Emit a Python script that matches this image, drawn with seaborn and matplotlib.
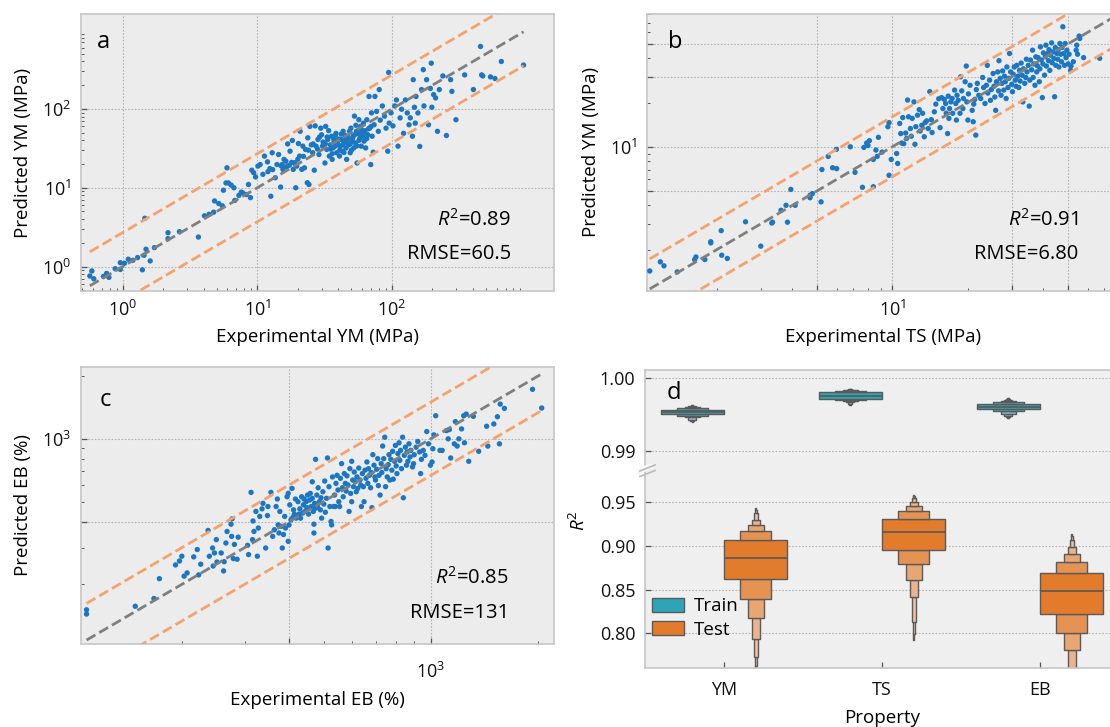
import numpy as np
import pandas as pd
import matplotlib
matplotlib.use("Agg")
import matplotlib.pyplot as plt
import seaborn as sns
from matplotlib.ticker import FixedLocator, FixedFormatter, LogLocator, NullFormatter
from matplotlib.lines import Line2D

# ---------------- data ----------------
# panel a: (experimental YM, predicted YM) in MPa
ym_points = [
    (0.57,0.76),(0.59,0.88),(0.61,0.70),(0.72,0.75),(0.76,0.82),(0.79,0.73),(0.88,0.94),(0.96,0.92),
    (0.96,1.12),(1.03,1.10),(1.10,1.24),(1.19,1.20),(1.29,1.30),(1.40,0.91),(1.44,1.39),(1.46,4.1),
    (1.49,1.66),(1.60,1.18),(1.72,1.74),(2.17,2.26),(2.17,2.69),(2.64,2.77),(3.65,2.37),(4.05,4.4),
    (4.38,4.6),(4.74,4.9),(4.81,6.8),(5.17,6.3),(5.5,5.9),(5.6,9.3),(5.85,11.5),(5.95,17.9),(6.1,11.5),
    (6.4,10.8),(6.7,10.0),(6.8,6.9),(7.3,8.0),(7.6,8.8),(7.8,8.6),(8.3,8.2),(8.6,11),(8.9,7.5),(9.1,16.7),
    (9.4,15.5),(9.7,13.7),(10.1,18.8),(10.5,19.7),(11.0,14.8),(11.3,25.2),(11.9,21.3),(12.4,17.5),
    (12.6,7.8),(12.9,27.8),(13.6,13.4),(14.0,19.7),(14.4,26.4),(14.9,10.2),(15.3,19.7),(15.5,17.1),
    (15.8,22.9),(16.3,21.7),(16.8,36),(17.3,19.3),(17.5,29.1),(18.2,39.8),(18.5,17.1),(19.0,20.8),
    (19.3,10.0),(19.6,18.8),(20.2,36.4),(20.6,25.2),(20.8,52),(21.4,17.1),(21.8,33.7),(22.4,17.9),
    (22.8,30.6),(23.5,11.6),(23.7,43),(24.2,11.0),(24.6,60),(25.2,35),(25.8,27.8),(26.5,16.7),(26.9,61),
    (27.3,33.7),(28.2,41),(28.7,26.4),(29.6,57),(30.0,47),(30.5,33.7),(31.5,37),(31.8,20.6),(32.2,60),
    (32.8,30.6),(33.4,41),(33.9,53),(34.3,25.2),(34.9,35),(35.6,45),(36.0,22.9),(36.5,32),(37.2,39),
    (37.9,33.7),(38.4,49),(38.9,27.8),(39.6,36),(40.3,41.5),(40.8,25.2),(41.3,33.7),(42.1,41),(42.9,29.1),
    (43.4,52),(44.0,37.5),(44.8,46),(45.6,32),(46.1,22.9),(46.7,41),(47.6,35),(48.5,52),(49.0,27.8),
    (49.6,57),(50.5,39),(51.4,45),(52.1,32),(52.7,81),(53.5,37),(54.5,52),(55.1,20.6),(55.8,49),(56.8,73),
    (57.8,43),(58.5,60),(59.2,33.7),(60.3,52),(61.4,66),(62.1,39),(62.9,53),(63.8,32),(65.1,73),(66.2,47),
    (67.6,144),(68.2,57),(69.6,19.7),(70.5,89),(71.3,45),(72.6,28.3),(73.8,63),(74.8,144),(76.9,93),
    (79.3,52),(80.5,176),(81.9,72),(84.9,109),(88.1,81),(90.4,57),(93.1,29.1),(94.6,290),(95.5,66),
    (98.5,89),(101.8,61),(105,109),(108,130),(111,33.7),(115,77),(118,99),(122,49),(126,130),(130,89),
    (134,63),(137,77),(142,45),(144,235),(147,105),(149,66),(151,144),(156,89),(161,33.4),(166,176),
    (171,315),(173,109),(181,235),(187,63),(193,182),(196,380),(198,105),(204,152),(211,138),(218,52),
    (225,176),(239,262),(254,46),(273,235),(279,167),(299,73),(347,270),(403,176),(455,620),(464,270),
    (473,262),(540,255),(583,243),(650,400),(950,360),
    (30.8,38),(33,44),(35,31),(37,42),(39,38),(41,30),(43,35),(45,40),(47,44),(49,36),(51,42),(53,47),
    (55,34),(57,40),(59,55),(61,45),(63,50),(65,42),(67,56),(70,60),(28,31),(26,36),(24,30),(22,25),
    (20,23),(18,21),(16.5,18.5),(15,19),(13,17),(12,16),(38,46),(42,48),(46,38),(50,30),(54,62),(58,48),
    (44,28),(36,27),(32,36),(29,44),
]

# panel b: (experimental TS, predicted) in MPa
ts_points = [
    (1.08,1.43),(1.19,1.65),(1.23,1.55),(1.39,1.41),(1.63,1.71),(1.65,1.78),(1.79,1.71),(1.89,2.26),
    (1.89,2.22),(2.08,2.69),(2.09,1.83),(2.20,1.74),(2.60,3.09),(2.99,2.11),(3.31,3.03),(3.33,3.07),
    (3.6,3.7),(3.77,4.0),(3.82,3.07),(3.94,5.13),(4.10,4.0),(4.7,4.5),(4.7,4.68),(4.8,4.8),(5.2,4.22),
    (5.24,7.0),(5.55,8.6),(5.78,7.2),(5.98,9.6),(6.0,7.1),(6.8,10),(7.1,6.7),(7.6,5.3),(7.7,9.9),
    (7.9,10.6),(8.0,10.2),(8.1,11.0),(8.4,5.35),(8.4,8.2),(8.6,9.5),(8.7,8.6),(8.8,11.6),(9.1,9.2),
    (9.6,13.7),(9.7,6.4),(9.7,14.6),(9.9,8.2),(10.4,9.0),(10.5,7.7),(10.7,14.4),(10.8,12.3),(10.9,10.6),
    (11.0,15.8),(11.1,10.5),(11.3,12.4),(11.4,11.4),(11.5,20.8),(11.6,16.0),(11.8,13.3),(11.9,11.8),
    (12.0,15.6),(12.2,20.2),(12.3,10.4),(12.4,13.7),(12.6,16.4),(12.8,17.9),(12.9,12.8),(13.1,14.0),
    (13.2,16.9),(13.4,11.7),(13.5,14.6),(13.7,15.0),(13.9,13.3),(14.1,23.7),(14.3,15.3),(14.4,12.5),
    (14.7,17.3),(14.9,19.5),(15.3,21.2),(15.5,13.5),(15.7,21.6),(15.9,18.2),(16.1,21.0),(16.3,19.7),
    (16.4,16.9),(16.6,12.3),(16.7,22.1),(16.8,15.6),(16.9,18.2),(17.1,20.2),(17.3,21.3),(17.4,16.9),
    (17.7,24.3),(17.9,19.7),(18.0,15.2),(18.1,22.4),(18.3,20.7),(18.6,16.9),(18.7,29.9),(18.9,24.0),
    (19.1,18.2),(19.2,21.3),(19.5,27.7),(19.7,35.4),(19.8,20.2),(20.0,15.2),(20.1,22.9),(20.4,26.2),
    (20.8,17.7),(21.0,14.8),(21.1,19.5),(21.3,21.0),(21.5,12.0),(21.6,24.5),(21.8,27.0),(22.1,22.4),
    (22.5,21.3),(22.9,29.6),(23.1,25.3),(23.4,19.7),(23.7,26.2),(23.9,35.8),(24.0,23.2),(24.4,28.4),
    (24.6,20.7),(24.8,24.5),(25.2,31.5),(25.4,25.8),(25.6,21.8),(25.8,17.7),(26.0,27.7),(26.3,32.3),
    (26.5,24.0),(26.6,38.5),(26.9,29.2),(27.1,22.4),(27.3,27.0),(27.5,32.8),(27.8,24.3),(28.0,30.2),
    (28.2,27.7),(28.4,21.3),(28.6,34.9),(28.9,25.3),(29.1,29.2),(29.3,43.1),(29.6,32.3),(29.9,26.6),
    (30.1,23.7),(30.3,31.2),(30.6,34.9),(30.9,28.4),(31.1,25.8),(31.3,35.8),(31.6,30.2),(31.9,25.3),
    (32.1,33.1),(32.3,28.0),(32.6,37.1),(32.9,30.7),(33.1,20.2),(33.3,33.9),(33.7,27.0),(34.0,29.6),
    (34.2,39.4),(34.4,32.3),(34.8,35.8),(35.1,18.9),(35.3,28.4),(35.5,38.9),(35.9,33.4),(36.2,45.4),
    (36.4,29.6),(36.6,36.6),(37.0,26.2),(37.3,40.9),(37.6,32.3),(37.8,35.6),(38.1,40.4),(38.5,27.7),
    (38.7,33.9),(38.9,47.8),(39.2,38.9),(39.6,21.6),(39.8,36.6),(40.0,43.5),(40.4,30.7),(40.7,40.9),
    (40.9,49.1),(41.1,35.4),(41.6,43.1),(41.9,38.5),(42.1,45.8),(42.4,33.1),(42.7,42.0),(43.1,50.9),
    (43.3,37.3),(43.6,44.2),(44.0,39.9),(44.3,21.9),(44.6,47.3),(44.8,35.8),(45.2,43.1),(45.6,39.4),
    (45.8,45.8),(46.1,34.9),(46.5,50.4),(46.9,42.6),(47.2,37.9),(47.4,47.3),(47.8,65.5),(48.2,43.1),
    (48.5,35.8),(48.8,50.4),(49.2,40.4),(49.6,45.4),(50.2,36.6),(50.6,42.6),(51.3,33.1),(51.5,35.4),
    (52.6,37.9),(54.0,45.4),(54.3,49.1),(54.7,42.6),(55.5,56.6),(55.8,54.5),(57.8,40.4),(67.0,40.0),
    (76.0,55.0),
]

# panel c: (experimental EB, predicted EB) in %
eb_points = [
    (108,151),(108,144),(148,157),(167,171),(173,213),(192,248),(197,259),(200,273),(203,219),(207,227),
    (216,271),(221,294),(223,222),(226,250),(237,363),(239,273),(244,299),(245,245),(247,283),(250,328),
    (251,256),(258,283),(262,232),(263,257),(266,316),(268,359),(275,389),(276,340),(277,413),(279,266),
    (281,311),(286,264),(288,337),(306,308),(308,278),(313,553),(316,328),(317,403),(319,359),(323,448),
    (326,273),(328,373),(331,424),(336,461),(338,490),(344,299),(348,428),(349,473),(356,553),(360,340),
    (364,366),(368,473),(371,514),(373,386),(375,353),(377,448),(380,380),(383,299),(386,347),(389,424),
    (391,373),(395,527),(398,547),(398,322),(400,386),(402,482),(405,408),(408,578),(410,419),(412,456),
    (414,435),(417,514),(419,416),(421,424),(424,499),(427,435),(429,461),(431,416),(434,527),(437,440),
    (439,482),(441,514),(444,448),(447,499),(449,467),(451,537),(454,435),(457,508),(459,547),(462,473),
    (465,518),(465,622),(468,448),(470,389),(470,353),(472,490),(475,797),(475,464),(479,537),(481,473),
    (483,582),(487,499),(490,456),(492,521),(494,416),(498,557),(501,486),(504,627),(506,444),(510,518),
    (513,809),(515,299),(518,589),(521,473),(525,401),(527,386),(530,656),(534,473),(537,537),(540,473),
    (542,611),(546,668),(549,568),(552,499),(555,473),(558,646),(562,760),(565,582),(568,527),(572,681),
    (576,611),(579,561),(582,664),(586,600),(590,448),(593,719),(596,547),(600,499),(600,780),(604,634),
    (607,589),(610,693),(614,622),(618,557),(621,656),(624,578),(628,724),(633,634),(636,600),(639,473),
    (643,681),(647,589),(650,499),(654,707),(658,646),(662,774),(666,611),(669,719),(673,668),(678,582),
    (681,689),(684,467),(688,839),(693,747),(697,656),(700,634),(705,714),(710,803),(713,596),(716,668),
    (721,537),(726,760),(729,689),(733,923),(738,803),(743,1018),(747,589),(750,719),(755,656),(760,752),
    (764,839),(768,634),(773,797),(778,707),(782,871),(785,640),(791,780),(796,929),(800,741),(804,681),
    (809,849),(815,957),(819,788),(823,880),(828,719),(834,1018),(838,521),(843,833),(849,912),(855,747),
    (859,865),(863,780),(869,946),(875,818),(879,880),(889,733),(895,760),(899,839),(910,912),(920,971),
    (931,865),(937,681),(942,797),(953,880),(964,833),(975,1084),(986,946),(998,747),(1009,774),
    (1014,896),(1021,1045),(1033,1291),(1062,880),(1077,880),(1107,1095),(1120,1000),(1128,1107),
    (1138,809),(1165,946),(1173,1209),(1187,923),(1200,1000),(1221,1116),(1238,1291),(1244,957),
    (1258,1315),(1279,780),(1318,1282),(1364,871),(1436,1149),(1447,923),(1504,1179),(1540,1277),
    (1560,946),(1568,1468),(1611,1400),(1932,1729),(2050,1406),
]

# panel d: R^2 of repeated train/test splits
properties = ["YM", "TS", "EB"]
sets = ["Train", "Test"]
r2_train_ym = [0.99395,0.99425,0.99455,0.99468,0.99480,0.99486,0.99492,0.99498,0.99503,0.99507,0.99510,
               0.99514,0.99517,0.99520,0.99524,0.99527,0.99530,0.99533,0.99537,0.99540,0.99544,0.99547,
               0.99551,0.99554,0.99558,0.99563,0.99568,0.99574,0.99580,0.99589,0.99598,0.99608,0.99625]
r2_train_ts = [0.99620,0.99660,0.99680,0.99690,0.99700,0.99703,0.99706,0.99709,0.99712,0.99717,0.99723,
               0.99728,0.99734,0.99739,0.99744,0.99750,0.99755,0.99760,0.99766,0.99771,0.99777,0.99782,
               0.99788,0.99794,0.99800,0.99804,0.99808,0.99811,0.99815,0.99820,0.99825,0.99833,0.99845]
r2_train_eb = [0.99440,0.99475,0.99505,0.99523,0.99540,0.99548,0.99556,0.99563,0.99571,0.99575,0.99579,
               0.99583,0.99587,0.99591,0.99595,0.99599,0.99603,0.99607,0.99611,0.99615,0.99620,0.99624,
               0.99628,0.99632,0.99636,0.99642,0.99648,0.99654,0.99660,0.99670,0.99680,0.99700,0.99722]
r2_test_ym = [0.752,0.794,0.818,0.829,0.839,0.845,0.851,0.857,0.862,0.866,0.869,0.872,0.875,0.878,0.881,
              0.884,0.886,0.888,0.890,0.893,0.896,0.899,0.902,0.904,0.9065,0.909,0.912,0.915,0.917,0.921,
              0.924,0.930,0.945]
r2_test_ts = [0.785,0.8413,0.8608,0.870,0.879,0.884,0.888,0.892,0.8955,0.899,0.902,0.905,0.908,0.910,0.912,
              0.914,0.9164,0.918,0.920,0.922,0.924,0.926,0.928,0.9295,0.931,0.934,0.936,0.938,0.940,0.943,
              0.9458,0.9507,0.960]
r2_test_eb = [0.740,0.760,0.781,0.791,0.8008,0.806,0.811,0.817,0.8226,0.826,0.830,0.834,0.838,0.841,0.844,
              0.846,0.8485,0.851,0.853,0.856,0.858,0.861,0.864,0.867,0.8695,0.872,0.875,0.878,0.882,0.886,
              0.8908,0.8985,0.916]

scores = {"YM": (0.89, "60.5"), "TS": (0.91, "6.80"), "EB": (0.85, "131")}

# ---------------- style ----------------
plt.rcParams.update({
    "font.family": ["Open Sans", "DejaVu Sans"],
    "mathtext.fontset": "custom",
    "mathtext.rm": "Open Sans",
    "mathtext.it": "Open Sans:italic",
    "mathtext.bf": "Open Sans:bold",
    "axes.unicode_minus": False,
})

BLUE = "#1b77c4"
GRAY_LINE = "#7f7f7f"
ORANGE_LINE = "#f4a26e"
TEAL = "#2ea5b7"
ORANGE = "#e27b2b"
FACE = "#ececec"
LABEL_FS = 13.5
TXT_FS = 14.5

W, H = 1110, 727
fig = plt.figure(figsize=(W / 100, H / 100), dpi=100)


def rect(l, t, r, b):
    return [l / W, 1 - b / H, (r - l) / W, (b - t) / H]


ax_a = fig.add_axes(rect(81, 14, 554, 291))
ax_b = fig.add_axes(rect(646.7, 14, 1119, 290.7))
ax_c = fig.add_axes(rect(80.7, 366.7, 554, 643.5))
ax_dt = fig.add_axes(rect(645, 370, 1119, 471))
ax_db = fig.add_axes(rect(645, 471, 1119, 668.3))


def style(ax, face=FACE):
    ax.set_facecolor(face)
    for s in ax.spines.values():
        s.set_color("#c6c6c6")
        s.set_linewidth(1.2)
    ax.tick_params(which="both", direction="in", colors="#555555", labelcolor="#111111",
                   top=False, right=False, pad=7)
    ax.tick_params(which="major", length=4, width=0.9)
    ax.tick_params(which="minor", length=2.5, width=0.7)
    ax.set_axisbelow(True)


def parity_panel(ax, points, factor, lim, majors, labels, xlabel, ylabel, key, letter, tpos,
                 xpad=6.5, xlabelpad=6):
    exp = [p[0] for p in points]
    pred = [p[1] for p in points]
    style(ax)
    ax.set_xscale("log")
    ax.set_yscale("log")
    sns.scatterplot(x=exp, y=pred, ax=ax, s=15, color=BLUE, edgecolor="none", linewidth=0, zorder=3)
    lo = min(min(exp), min(pred))
    hi = max(max(exp), max(pred))
    ax.plot([lo, hi], [lo, hi], ls="--", color=GRAY_LINE, lw=2.0, zorder=4)
    ax.plot([lo, hi], [lo * factor, hi * factor], ls="--", color=ORANGE_LINE, lw=2.0, zorder=4)
    ax.plot([lo, hi], [lo / factor, hi / factor], ls="--", color=ORANGE_LINE, lw=2.0, zorder=4)
    ax.set_xlim(*lim)
    ax.set_ylim(*lim)
    for axis in (ax.xaxis, ax.yaxis):
        axis.set_major_locator(FixedLocator(majors))
        axis.set_major_formatter(FixedFormatter(labels))
        axis.set_minor_locator(LogLocator(base=10, subs=np.arange(2, 10)))
        axis.set_minor_formatter(NullFormatter())
    ax.tick_params(axis="both", which="major", labelsize=13)
    ax.tick_params(axis="x", which="major", pad=xpad)
    ax.grid(True, which="major", ls=(0, (1.5, 1.5)), color="#b4b4b4", lw=0.8)
    ax.set_xlabel(xlabel, fontsize=LABEL_FS, labelpad=xlabelpad)
    ax.set_ylabel(ylabel, fontsize=LABEL_FS, labelpad=7)
    r2, rmse = scores[key]
    ax.text(tpos[0], tpos[1], r"$R^2$" + f"={r2:.2f}", transform=ax.transAxes,
            ha="right", va="center", fontsize=TXT_FS)
    ax.text(tpos[0], tpos[2], f"RMSE={rmse}", transform=ax.transAxes,
            ha="right", va="center", fontsize=TXT_FS)
    ax.text(letter[1], letter[2], letter[0], transform=ax.transAxes,
            ha="left", va="center", fontsize=17)


parity_panel(ax_a, ym_points, 2.7, (0.49, 1600), [1, 10, 100],
             [r"$10^{0}$", r"$10^{1}$", r"$10^{2}$"],
             "Experimental YM (MPa)", "Predicted YM (MPa)", "YM", ("a", 0.034, 0.90),
             (0.909, 0.256, 0.134))
parity_panel(ax_b, ts_points, 1.6, (1.05, 80), [5, 10, 30, 50],
             ["", r"$10^{1}$", "", ""],
             "Experimental TS (MPa)", "Predicted YM (MPa)", "TS", ("b", 0.045, 0.90),
             (0.913, 0.256, 0.134))
parity_panel(ax_c, eb_points, 1.5, (104, 2220), [400, 1000],
             ["", r"$10^{3}$"],
             "Experimental EB (%)", "Predicted EB (%)", "EB", ("c", 0.040, 0.88),
             (0.905, 0.236, 0.110), xpad=13.5, xlabelpad=6)

# ---------------- panel d ----------------
rows = []
for prop, tr, te in zip(properties, [r2_train_ym, r2_train_ts, r2_train_eb],
                        [r2_test_ym, r2_test_ts, r2_test_eb]):
    rows += [(prop, "Train", v) for v in tr]
    rows += [(prop, "Test", v) for v in te]
df = pd.DataFrame(rows, columns=["Property", "Set", "R2"])

for ax, show_leg in ((ax_dt, False), (ax_db, True)):
    style(ax, "#efefef")
    sns.boxenplot(data=df, x="Property", y="R2", hue="Set", order=properties, hue_order=sets,
                  palette={"Train": TEAL, "Test": ORANGE}, saturation=1, k_depth=7,
                  showfliers=False, linewidth=1.0, linecolor="#5a5a5a", ax=ax, legend=show_leg)
    ax.grid(True, axis="y", ls=(0, (1.5, 1.5)), color="#b4b4b4", lw=0.8)
    ax.grid(False, axis="x")
    ax.set_xlim(-0.5, 2.5)
    ax.set_ylabel("")
    ax.tick_params(axis="both", which="major", labelsize=13)

ax_dt.set_ylim(0.98722, 1.00105)
ax_dt.set_yticks([0.99, 1.00])
ax_dt.set_yticklabels(["0.99", "1.00"])
ax_dt.spines["bottom"].set_visible(False)
ax_dt.tick_params(axis="x", bottom=False, labelbottom=False)
ax_dt.set_xlabel("")
ax_dt.text(0.045, 0.77, "d", transform=ax_dt.transAxes, ha="left", va="center", fontsize=17)

ax_db.set_ylim(0.76, 0.9858)
ax_db.set_yticks([0.80, 0.85, 0.90, 0.95])
ax_db.set_yticklabels(["0.80", "0.85", "0.90", "0.95"])
ax_db.spines["top"].set_visible(False)
ax_db.set_xlabel("Property", fontsize=LABEL_FS, labelpad=7)
ax_db.tick_params(axis="x", pad=9)

handles, labels = ax_db.get_legend_handles_labels()
ax_db.legend(handles, labels, loc="lower left", bbox_to_anchor=(0.0, 0.116), frameon=False,
             fontsize=13.5, handlelength=1.75, handleheight=0.75, borderaxespad=0.0,
             labelspacing=0.3, handletextpad=0.5, borderpad=0.35)

fig.text(579 / W, 1 - 521 / H, r"$R^2$", rotation=90, ha="center", va="center", fontsize=LABEL_FS)

# broken-axis marks on the left spine
fig.add_artist(Line2D([640 / W, 650 / W], [1 - 471 / H, 1 - 466.5 / H], color="#f7f7f7", lw=4))
for dy in (0, 5.5):
    fig.add_artist(Line2D([640 / W, 655 / W], [1 - (471 + dy) / H, 1 - (465 + dy) / H],
                          color="#bdbdbd", lw=1.3))

fig.savefig("out.png", dpi=100)
